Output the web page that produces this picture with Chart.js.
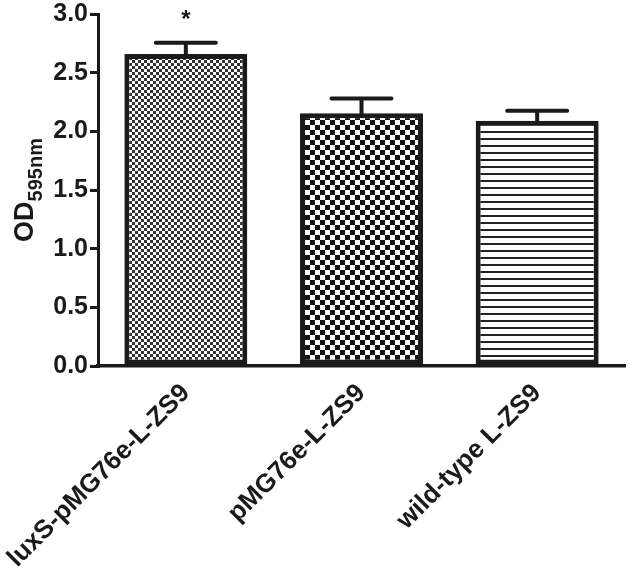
<!DOCTYPE html>
<html>
<head>
<meta charset="utf-8">
<script src="https://cdn.jsdelivr.net/npm/chart.js@4"></script>
<style>
  html, body { margin: 0; padding: 0; background: #fff; }
  #wrap { width: 630px; height: 572px; }
</style>
</head>
<body>
<div id="wrap"><canvas id="od-chart" width="630" height="572"></canvas></div>
<script>
// data
const strains = ["luxS-pMG76e-L-ZS9", "pMG76e-L-ZS9", "wild-type L-ZS9"];
const odValues = [2.66, 2.155, 2.09];
const odErrors = [0.095, 0.125, 0.085];
const marks = ["*", "", ""];
const yTicks = [0, 0.5, 1.0, 1.5, 2.0, 2.5, 3.0];

const FONT = "'Liberation Sans', Arial, sans-serif";

// fill patterns
function makePattern(kind) {
  const c = document.createElement('canvas');
  const g = c.getContext('2d');
  if (kind === 'fine') {
    c.width = 6; c.height = 6;
    g.fillStyle = '#fff'; g.fillRect(0, 0, 6, 6);
    g.fillStyle = '#333';
    g.fillRect(0, 0, 3, 3); g.fillRect(3, 3, 3, 3);
  } else if (kind === 'coarse') {
    c.width = 10; c.height = 10;
    g.fillStyle = '#fff'; g.fillRect(0, 0, 10, 10);
    g.fillStyle = '#111';
    g.fillRect(0, 0, 5, 5); g.fillRect(5, 5, 5, 5);
  } else {
    c.width = 7; c.height = 7;
    g.fillStyle = '#fff'; g.fillRect(0, 0, 7, 7);
    g.fillStyle = '#222';
    g.fillRect(0, 5, 7, 2);
  }
  return g.createPattern(c, 'repeat');
}
const fills = [makePattern('fine'), makePattern('coarse'), makePattern('lines')];

// error bars + significance mark
const errorBars = {
  id: 'errorBars',
  afterDatasetsDraw(chart) {
    const { ctx, scales: { y } } = chart;
    const meta = chart.getDatasetMeta(0);
    ctx.save();
    ctx.strokeStyle = '#1a1a1a';
    ctx.lineWidth = 4;
    ctx.lineCap = 'round';
    for (let i = 0; i < odValues.length; i++) {
      const x = meta.data[i].x;
      const yb = y.getPixelForValue(odValues[i]);
      const yt = y.getPixelForValue(odValues[i] + odErrors[i]);
      ctx.beginPath();
      ctx.moveTo(x, yb);
      ctx.lineTo(x, yt);
      ctx.moveTo(x - 30, yt);
      ctx.lineTo(x + 30, yt);
      ctx.stroke();
      if (marks[i]) {
        ctx.fillStyle = '#1a1a1a';
        ctx.font = 'bold 24px ' + FONT;
        ctx.textAlign = 'center';
        ctx.textBaseline = 'middle';
        ctx.fillText(marks[i], x, yt - 22);
      }
    }
    ctx.restore();
  }
};

// y title with subscript
const yTitle = {
  id: 'yTitle',
  afterDraw(chart) {
    const { ctx, chartArea } = chart;
    const cy = (chartArea.top + chartArea.bottom) / 2;
    ctx.save();
    ctx.translate(24, cy);
    ctx.rotate(-Math.PI / 2);
    ctx.fillStyle = '#1a1a1a';
    ctx.textBaseline = 'alphabetic';
    ctx.font = 'bold 27px ' + FONT;
    const w1 = ctx.measureText('OD').width;
    ctx.font = 'bold 20px ' + FONT;
    const w2 = ctx.measureText('595nm').width;
    const x0 = -(w1 + w2) / 2;
    ctx.font = 'bold 27px ' + FONT;
    ctx.fillText('OD', x0, 9);
    ctx.font = 'bold 20px ' + FONT;
    ctx.fillText('595nm', x0 + w1, 18);
    ctx.restore();
  }
};

const ctx = document.getElementById('od-chart').getContext('2d');
new Chart(ctx, {
  type: 'bar',
  data: {
    labels: strains,
    datasets: [{
      data: odValues,
      backgroundColor: fills,
      borderColor: '#1a1a1a',
      borderWidth: 5,
      borderSkipped: false,
      categoryPercentage: 1.0,
      barPercentage: 0.70
    }]
  },
  options: {
    responsive: false,
    animation: false,
    layout: { padding: { top: 0, right: 5, left: 0, bottom: 0 } },
    scales: {
      x: {
        grid: { display: false },
        border: { display: true, color: '#1a1a1a', width: 3.5 },
        ticks: {
          color: '#1a1a1a',
          font: { family: FONT, size: 26, weight: 'bold' },
          minRotation: 45,
          maxRotation: 45,
          padding: 4
        },
        afterFit(scale) {
          scale.height = 206;
          scale.paddingLeft = 0;
          scale.paddingRight = 0;
        }
      },
      y: {
        min: 0,
        max: 3.0,
        afterBuildTicks(scale) { scale.ticks = yTicks.map(v => ({ value: v })); },
        grid: {
          display: true,
          drawOnChartArea: false,
          drawTicks: true,
          tickLength: 8,
          color: '#1a1a1a',
          lineWidth: 3
        },
        border: { display: true, color: '#1a1a1a', width: 3 },
        ticks: {
          color: '#1a1a1a',
          font: { family: FONT, size: 25, weight: 'bold', lineHeight: 0.96 },
          padding: 2,
          callback: v => Number(v).toFixed(1)
        },
        afterFit(scale) { scale.width = 98; }
      }
    },
    plugins: {
      legend: { display: false },
      tooltip: { enabled: false }
    }
  },
  plugins: [errorBars, yTitle]
});
</script>
</body>
</html>
